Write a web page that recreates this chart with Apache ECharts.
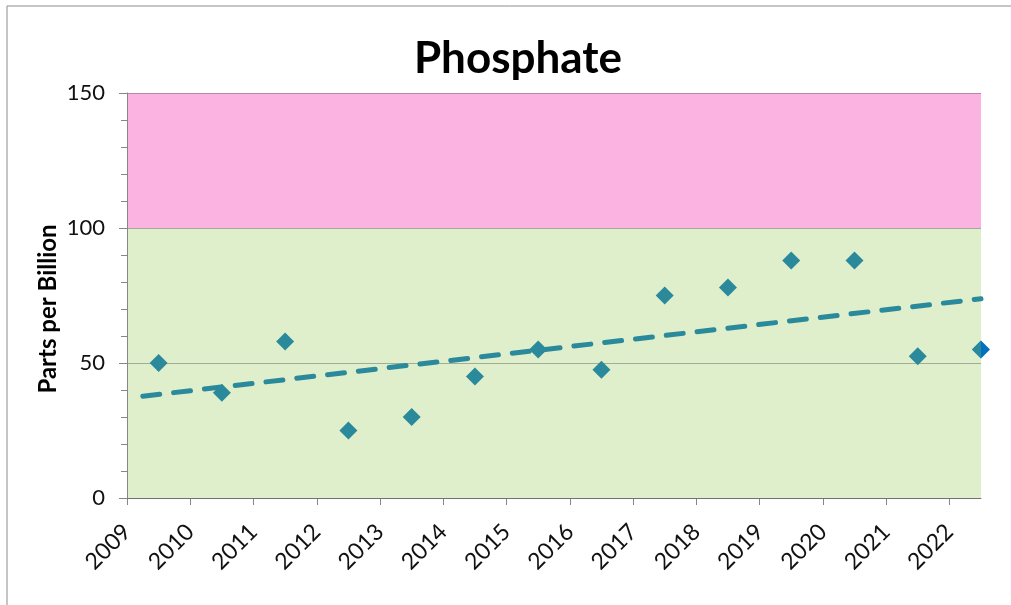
<!DOCTYPE html>
<html>
<head>
<meta charset="utf-8">
<script src="https://cdn.jsdelivr.net/npm/echarts@6/dist/echarts.min.js"></script>
<style>
html,body{margin:0;padding:0;background:#fff;}
#chart{width:1011px;height:605px;}
</style>
</head>
<body>
<div id="chart"></div>
<script>
// ---- data ----
const title = 'Phosphate';
const yAxisTitle = 'Parts per Billion';
const years = [2009, 2010, 2011, 2012, 2013, 2014, 2015, 2016, 2017, 2018, 2019, 2020, 2021, 2022];
const values = [50, 39, 58, 25, 30, 45, 55, 47.5, 75, 78, 88, 88, 52.5, 55];
const trendX = [2009.25, 2022.5];
const trendY = [37.7, 73.8];
const yTicks = [0, 50, 100, 150];
const bandLow = [0, 100];   // acceptable band
const bandHigh = [100, 150]; // high band

const teal = '#2A8A9C';
const blue = '#0070C0';
const font = 'Lato, "Open Sans", sans-serif';

const pts = years.map((y, i) => [y + 0.5, values[i]]);
const last = pts.length - 1;
const tealData = pts.map((p, i) => i === last
  ? { value: p, symbol: 'path://M0,10 L10,0 L10,20 Z', symbolSize: [9, 18], symbolOffset: [-4.5, 0] }
  : { value: p });

const chart = echarts.init(document.getElementById('chart'), null, { renderer: 'canvas' });
chart.setOption({
  backgroundColor: '#fff',
  animation: false,
  title: {
    text: title,
    left: 513, top: 32, textAlign: 'center',
    textStyle: { fontFamily: font, fontWeight: 'bold', fontSize: 44, color: '#000' }
  },
  graphic: [
    { type: 'rect', z: -10, shape: { x: 7, y: 6, width: 1200, height: 800 },
      style: { fill: 'none', stroke: '#8c8c8c', lineWidth: 1 } },
    { type: 'text', x: 48, y: 309, rotation: Math.PI / 2,
      style: { text: yAxisTitle, font: 'bold 24px ' + font, fill: '#000', align: 'center', verticalAlign: 'middle' } }
  ],
  grid: { left: 127, right: 30, top: 93, bottom: 107, containLabel: false },
  xAxis: {
    type: 'value', min: years[0], max: years[years.length - 1] + 0.5, interval: 1,
    axisLine: { show: true, lineStyle: { color: '#868686', width: 1 } },
    axisTick: { show: true, length: 7, lineStyle: { color: '#868686' }, customValues: years },
    axisLabel: { rotate: 45, margin: 30, customValues: years, formatter: v => String(v),
      fontFamily: font, fontSize: 23, color: '#111' },
    splitLine: { show: false }
  },
  yAxis: {
    type: 'value', min: yTicks[0], max: yTicks[yTicks.length - 1], interval: 50, z: 3,
    axisLine: { show: true, lineStyle: { color: '#868686', width: 1 } },
    axisTick: { show: true, length: 8, lineStyle: { color: '#868686' } },
    minorTick: { show: true, splitNumber: 5, length: 6, lineStyle: { color: '#868686' } },
    axisLabel: { margin: 22, fontFamily: font, fontSize: 22, color: '#111' },
    splitLine: { show: true, lineStyle: { color: 'rgba(90,90,90,0.45)', width: 1 } }
  },
  series: [
    {
      type: 'line', data: [], z: 1, silent: true,
      markArea: {
        silent: true,
        data: [
          [{ yAxis: bandHigh[0], itemStyle: { color: '#FBB4E1' } }, { yAxis: bandHigh[1] }],
          [{ yAxis: bandLow[0], itemStyle: { color: '#DFEFCB' } }, { yAxis: bandLow[1] }]
        ]
      }
    },
    {
      type: 'line', z: 4, symbol: 'none', silent: true,
      data: trendX.map((x, i) => [x, trendY[i]]),
      lineStyle: { color: teal, width: 5, type: [17, 14], cap: 'round' }
    },
    {
      type: 'scatter', z: 5, symbol: 'diamond', symbolSize: 18,
      data: [pts[last]], itemStyle: { color: blue, opacity: 1 }
    },
    {
      type: 'scatter', z: 6, symbol: 'diamond', symbolSize: 18,
      data: tealData, itemStyle: { color: teal, opacity: 1 }
    }
  ]
});
</script>
</body>
</html>
